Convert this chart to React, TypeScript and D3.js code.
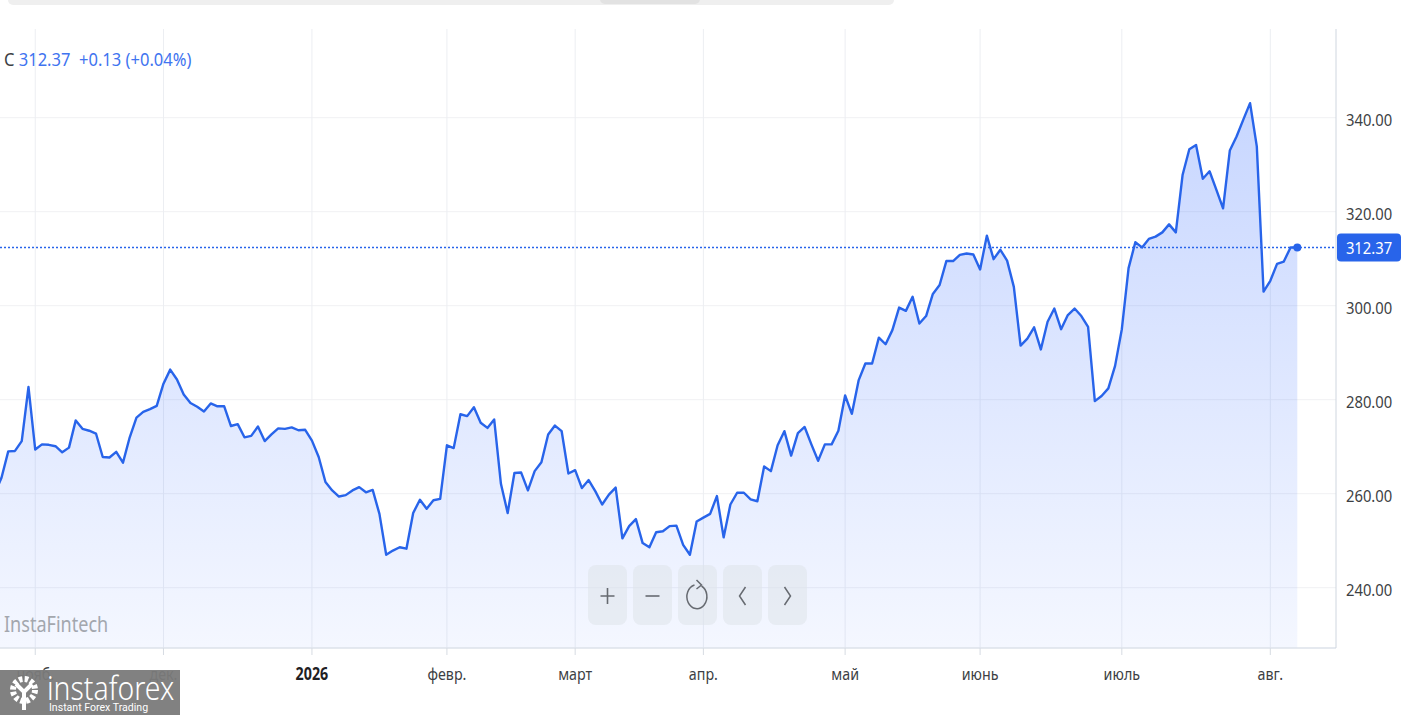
import * as d3 from "d3";

// closing prices, one per trading day (first two points sit left of the visible area)
const values = [
  260.0, 263.4,
  269.0, 269.1, 271.2, 282.7, 269.4, 270.5, 270.4, 270.1, 268.8, 269.8,
  275.6, 273.8, 273.4, 272.8, 267.8, 267.7, 268.9, 266.6, 272.0, 276.2,
  277.4, 278.0, 278.7, 283.4, 286.4, 284.3, 281.1, 279.3, 278.5, 277.5,
  279.2, 278.6, 278.6, 274.4, 274.8, 272.0, 272.3, 274.3, 271.2, 272.6,
  273.9, 273.8, 274.1, 273.5, 273.6, 271.3, 267.8, 262.5, 260.7, 259.4,
  259.7, 260.7, 261.4, 260.3, 260.8, 255.7, 247.0, 247.9, 248.6, 248.3,
  255.9, 258.7, 256.8, 258.6, 258.9, 270.3, 269.7, 276.9, 276.5, 278.4,
  275.1, 274.0, 275.8, 262.1, 255.9, 264.4, 264.5, 260.7, 264.8, 266.7,
  272.6, 274.5, 273.3, 264.3, 265.0, 261.2, 262.9, 260.5, 257.7, 259.8,
  261.3, 250.5, 253.1, 254.6, 249.5, 248.6, 251.8, 252.0, 253.1, 253.2,
  249.1, 247.0, 254.1, 254.9, 255.7, 259.5, 250.7, 257.7, 260.2, 260.2,
  258.8, 258.4, 265.8, 264.8, 270.3, 273.3, 268.1, 272.9, 274.2, 270.5,
  267.0, 270.5, 270.5, 273.4, 280.9, 277.0, 284.1, 287.7, 287.7, 293.2,
  291.8, 294.8, 299.6, 298.9, 301.9, 296.2, 297.8, 302.5, 304.4, 309.5,
  309.5, 310.8, 311.1, 310.9, 307.7, 314.9, 309.9, 311.9, 309.6, 304.0,
  291.5, 293.0, 295.4, 290.7, 296.6, 299.4, 295.0, 298.0, 299.4, 297.8,
  295.5, 279.7, 280.8, 282.4, 287.2, 295.0, 308.0, 313.5, 312.4, 314.2,
  314.7, 315.6, 317.3, 315.6, 327.8, 333.3, 334.2, 327.0, 328.6, 324.7,
  320.7, 333.0, 336.0, 339.6, 343.1, 333.9, 303.0, 305.3, 308.9, 309.4,
  312.4, 312.37,
];

const monthLabels = ["нояб.", "дек.", "2026", "февр.", "март", "апр.", "май", "июнь", "июль", "авг."];
const monthIndex = [6, 25, 47, 67, 86, 105, 126, 146, 167, 189];
const yTicks = [240, 260, 280, 300, 320, 340];

const lastPrice = 312.37;
const changeText = "+0.13 (+0.04%)";

const W = 1402;
const H = 715;
const plot = { left: 0, top: 29, right: 1336, bottom: 648 };
const step = 6.749;
const xLast = 1297.3;

const BLUE = "#2864ea";
const FONT = "'Noto Sans', sans-serif";

function Label({ x, y, text, size = 17, fill = "#3d3f44", anchor = "start", weight = 400, sx = 0.84 }: any) {
  return (
    <text
      transform={`translate(${x},${y}) scale(${sx},1)`}
      fontSize={size}
      fill={fill}
      textAnchor={anchor}
      fontWeight={weight}
      dominantBaseline="central"
      fontFamily={FONT}
    >
      {text}
    </text>
  );
}

export default function App() {
  const n = values.length;
  const x = d3.scaleLinear().domain([0, n - 1]).range([xLast - step * (n - 1), xLast]);
  const y = d3.scaleLinear().domain([240, 340]).range([587.7, 117.7]);

  const line = d3.line<number>().x((d, i) => x(i)).y(d => y(d));
  const area = d3.area<number>().x((d, i) => x(i)).y0(plot.bottom).y1(d => y(d));

  const lastY = y(lastPrice);
  const buttons = ["plus", "minus", "reset", "prev", "next"];

  return (
    <svg
      width={W}
      height={H}
      style={{ position: "absolute", left: 0, top: 0, display: "block", background: "#fff" }}
    >
      <defs>
        <clipPath id="plotClip">
          <rect x={plot.left} y={plot.top} width={plot.right - plot.left} height={plot.bottom - plot.top} />
        </clipPath>
        <linearGradient id="fillGrad" gradientUnits="userSpaceOnUse" x1="0" y1="100" x2="0" y2={plot.bottom}>
          <stop offset="0" stopColor="#2962ff" stopOpacity="0.26" />
          <stop offset="1" stopColor="#2962ff" stopOpacity="0.05" />
        </linearGradient>
      </defs>

      {/* page bar above the chart */}
      <rect x={8} y={-6} width={886} height={11} rx={5} fill="#efefef" />
      <rect x={600} y={-6} width={100} height={10} rx={5} fill="#e2e2e2" />

      {/* grid */}
      {yTicks.map(t => (
        <line key={t} x1={plot.left} x2={plot.right} y1={y(t)} y2={y(t)} stroke="#f0f1f3" strokeWidth={1} />
      ))}
      {monthIndex.map(i => (
        <line key={i} x1={x(i)} x2={x(i)} y1={plot.top} y2={plot.bottom} stroke="#eceef2" strokeWidth={1} />
      ))}

      {/* series */}
      <g clipPath="url(#plotClip)">
        <path d={area(values) || ""} fill="url(#fillGrad)" />
        <line x1={plot.left} x2={plot.right} y1={lastY} y2={lastY} stroke={BLUE} strokeWidth={1.5} strokeDasharray="2,2" />
        <path d={line(values) || ""} fill="none" stroke={BLUE} strokeWidth={2.4} strokeLinejoin="round" />
        <circle cx={x(n - 1)} cy={y(values[n - 1])} r={4} fill={BLUE} />
      </g>

      {/* axes borders */}
      <line x1={plot.left} x2={plot.right} y1={plot.bottom} y2={plot.bottom} stroke="#dce2ea" strokeWidth={1.5} />
      <line x1={plot.right} x2={plot.right} y1={plot.top} y2={plot.bottom} stroke="#cfd6df" strokeWidth={1} />
      {monthIndex.map(i => (
        <line key={i} x1={x(i)} x2={x(i)} y1={plot.bottom} y2={plot.bottom + 7} stroke="#d6dbe2" strokeWidth={1} />
      ))}

      {/* y labels */}
      {yTicks.map(t => (
        <Label key={t} x={1346} y={y(t) + 2} text={d3.format(".2f")(t)} fill="#3d3f44" sx={0.87} />
      ))}

      {/* last price badge */}
      <rect x={1337} y={lastY - 14} width={64} height={28} rx={4} fill={BLUE} />
      <Label x={1369} y={lastY} text={d3.format(".2f")(lastPrice)} fill="#fff" anchor="middle" sx={0.87} />

      {/* x labels */}
      {monthIndex.map((i, k) => (
        <Label
          key={i}
          x={x(i)}
          y={674}
          text={monthLabels[k]}
          anchor="middle"
          weight={monthLabels[k] === "2026" ? 700 : 400}
          fill={monthLabels[k] === "2026" ? "#1f2023" : "#3d3f44"}
        />
      ))}

      {/* header */}
      <text
        transform="translate(4,59) scale(0.87,1)"
        fontSize={19}
        fontFamily={FONT}
        dominantBaseline="central"
        style={{ whiteSpace: "pre" }}
      >
        <tspan fill="#3d3f44">C </tspan>
        <tspan fill="#3f74f0">{d3.format(".2f")(lastPrice)}</tspan>
        <tspan fill="#3f74f0">{"  " + changeText}</tspan>
      </text>

      {/* watermark */}
      <Label x={4} y={624} text="InstaFintech" size={21} fill="#a3a7ae" sx={0.86} />

      {/* zoom buttons */}
      {buttons.map((b, k) => {
        const bx = 588 + k * 45;
        const cx = bx + 19.5;
        const cy = 596;
        return (
          <g key={b}>
            <rect x={bx} y={565} width={39} height={60} rx={8} fill="#dfe3ea" fillOpacity={0.55} />
            {b === "plus" && (
              <path d={`M${cx - 7},${cy} H${cx + 7} M${cx},${cy - 8} V${cy + 8}`} stroke="#666a70" strokeWidth={1.6} fill="none" />
            )}
            {b === "minus" && <path d={`M${cx - 7},${cy} H${cx + 7}`} stroke="#666a70" strokeWidth={1.6} />}
            {b === "reset" && (
              <g stroke="#666a70" strokeWidth={1.5} fill="none">
                <path d={`M${cx + 4},${cy - 10} A10,12 0 1 1 ${cx - 3},${cy - 11}`} />
                <path d={`M${cx - 1},${cy - 16} L${cx + 4},${cy - 11} L${cx - 1},${cy - 7}`} />
              </g>
            )}
            {b === "prev" && <path d={`M${cx + 3},${cy - 9} L${cx - 3},${cy} L${cx + 3},${cy + 9}`} stroke="#666a70" strokeWidth={1.5} fill="none" />}
            {b === "next" && <path d={`M${cx - 3},${cy - 9} L${cx + 3},${cy} L${cx - 3},${cy + 9}`} stroke="#666a70" strokeWidth={1.5} fill="none" />}
          </g>
        );
      })}

      {/* instaforex logo */}
      <g>
        <rect x={0} y={670} width={180} height={45} fill="#7a7a7a" fillOpacity={0.95} />
        <circle cx={24} cy={690} r={11} fill="none" stroke="#fff" strokeWidth={6} strokeDasharray="3.5,2.3" />
        <path d="M16,684 L24,692 L32,684 M24,692 V710" stroke="#fff" strokeWidth={4} fill="none" />
        <text transform="translate(47,700) scale(0.86,1)" fontSize={33} fill="#fff" fontFamily={FONT} fontWeight={300}>
          instaforex
        </text>
        <text transform="translate(49,711) scale(0.92,1)" fontSize={11.5} fill="#fff" fontFamily="Roboto, sans-serif">
          Instant Forex Trading
        </text>
      </g>
    </svg>
  );
}
